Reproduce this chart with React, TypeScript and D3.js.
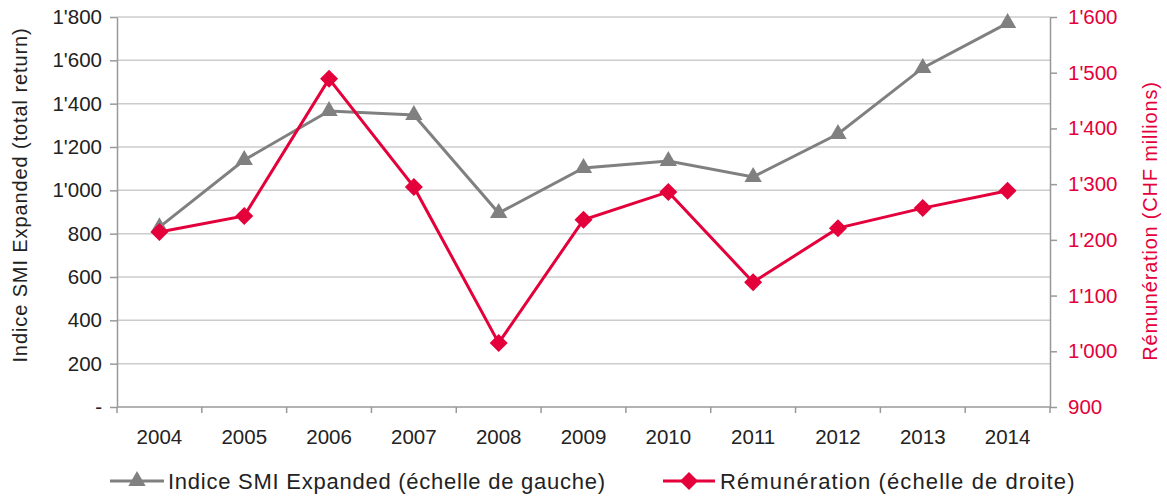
import React, { useEffect, useRef } from 'react'
import * as d3 from 'd3'

const years = ['2004', '2005', '2006', '2007', '2008', '2009', '2010', '2011', '2012', '2013', '2014']
const smiValues = [830, 1140, 1366, 1348, 895, 1103, 1135, 1062, 1260, 1565, 1772]
const payValues = [1214, 1243, 1489, 1295, 1015, 1236, 1286, 1124, 1221, 1257, 1288]
const leftTicks = [0, 200, 400, 600, 800, 1000, 1200, 1400, 1600, 1800]
const rightTicks = [900, 1000, 1100, 1200, 1300, 1400, 1500, 1600]

const GRAY = '#808080'
const RED = '#E4003B'
const TEXT = '#222'
const FONT = '"Liberation Sans", Arial, sans-serif'

const fmt = (v: number) => {
	if (v === 0) return '-'
	const s = String(v)
	return s.length > 3 ? s.slice(0, s.length - 3) + "'" + s.slice(-3) : s
}

const App = () => {
	const ref = useRef<SVGSVGElement>(null)

	useEffect(() => {
		const svg = d3.select(ref.current)
		svg.selectAll('*').remove()

		const left = 117,
			right = 1050,
			top = 17,
			bottom = 407

		const x = d3.scaleBand().domain(years).range([left, right])
		const yL = d3.scaleLinear().domain([0, 1800]).range([bottom, top])
		const yR = d3.scaleLinear().domain([900, 1600]).range([bottom, top])

		// gridlines
		svg.append('g')
			.selectAll('line')
			.data(leftTicks.slice(1))
			.enter()
			.append('line')
			.attr('x1', left)
			.attr('x2', right)
			.attr('y1', d => yL(d))
			.attr('y2', d => yL(d))
			.attr('stroke', '#cccccc')
			.attr('stroke-width', 1.5)

		// left axis
		const gL = svg.append('g').attr('transform', `translate(${left},0)`)
			.call(d3.axisLeft(yL).tickValues(leftTicks).tickFormat(d => fmt(+d)).tickSize(7).tickSizeOuter(0).tickPadding(8))
		gL.select('.domain').attr('stroke', '#999').attr('stroke-width', 1.5)
		gL.selectAll('.tick line').attr('stroke', '#999').attr('stroke-width', 1.5)
		gL.selectAll('.tick text').attr('fill', TEXT).style('font-size', '20.5px').style('font-family', FONT)

		// right axis
		const gR = svg.append('g').attr('transform', `translate(${right},0)`)
			.call(d3.axisRight(yR).tickValues(rightTicks).tickFormat(d => fmt(+d)).tickSize(7).tickSizeOuter(0).tickPadding(11))
		gR.select('.domain').attr('stroke', '#999').attr('stroke-width', 1.5)
		gR.selectAll('.tick line').attr('stroke', '#999').attr('stroke-width', 1.5)
		gR.selectAll('.tick text').attr('fill', RED).style('font-size', '20.5px').style('font-family', FONT)

		// x axis
		const gX = svg.append('g').attr('transform', `translate(0,${bottom})`)
		gX.append('line').attr('x1', left).attr('x2', right).attr('stroke', '#999').attr('stroke-width', 1.5)
		gX.selectAll('.tk')
			.data(years.concat(['end']))
			.enter()
			.append('line')
			.attr('x1', (d, i) => left + i * x.step())
			.attr('x2', (d, i) => left + i * x.step())
			.attr('y1', 0)
			.attr('y2', 6)
			.attr('stroke', '#999')
			.attr('stroke-width', 1.5)
		gX.selectAll('text')
			.data(years)
			.enter()
			.append('text')
			.attr('x', d => x(d)! + x.bandwidth() / 2)
			.attr('y', 37)
			.attr('text-anchor', 'middle')
			.attr('fill', TEXT)
			.style('font-size', '20.5px')
			.style('font-family', FONT)
			.text(d => d)

		// axis titles
		svg.append('text')
			.attr('transform', `translate(27,195) rotate(-90)`)
			.attr('text-anchor', 'middle')
			.attr('fill', TEXT)
			.style('font-size', '20px')
			.style('font-family', FONT)
			.style('letter-spacing', '0.9px')
			.text('Indice SMI Expanded (total return)')
		svg.append('text')
			.attr('transform', `translate(1157,221) rotate(-90)`)
			.attr('text-anchor', 'middle')
			.attr('fill', RED)
			.style('font-size', '20px')
			.style('font-family', FONT)
			.style('letter-spacing', '0.8px')
			.text('Rémunération (CHF millions)')

		const cx = (i: number) => x(years[i])! + x.bandwidth() / 2
		const tri = d3.symbol().type(d3.symbolTriangle).size(130)
		const dia = (s: number) => `M0,${-s}L${s},0L0,${s}L${-s},0Z`

		// SMI series
		svg.append('path')
			.datum(smiValues)
			.attr('fill', 'none')
			.attr('stroke', GRAY)
			.attr('stroke-width', 3)
			.attr('d', d3.line<number>().x((d, i) => cx(i)).y(d => yL(d)))
		svg.append('g')
			.selectAll('path')
			.data(smiValues)
			.enter()
			.append('path')
			.attr('d', tri)
			.attr('transform', (d, i) => `translate(${cx(i)},${yL(d)})`)
			.attr('fill', GRAY)

		// Remuneration series
		svg.append('path')
			.datum(payValues)
			.attr('fill', 'none')
			.attr('stroke', RED)
			.attr('stroke-width', 3)
			.attr('d', d3.line<number>().x((d, i) => cx(i)).y(d => yR(d)))
		svg.append('g')
			.selectAll('path')
			.data(payValues)
			.enter()
			.append('path')
			.attr('d', dia(9))
			.attr('transform', (d, i) => `translate(${cx(i)},${yR(d)})`)
			.attr('fill', RED)

		// legend
		const lg = svg.append('g').attr('transform', 'translate(0,481)')
		lg.append('line').attr('x1', 110).attr('x2', 164).attr('stroke', GRAY).attr('stroke-width', 3)
		lg.append('path').attr('d', tri).attr('transform', 'translate(137,0)').attr('fill', GRAY)
		lg.append('text').attr('x', 168).attr('y', 8).attr('fill', TEXT)
			.style('font-size', '22px').style('font-family', FONT).style('letter-spacing', '0.75px')
			.text('Indice SMI Expanded (échelle de gauche)')
		lg.append('line').attr('x1', 663).attr('x2', 715).attr('stroke', RED).attr('stroke-width', 3)
		lg.append('path').attr('d', dia(9)).attr('transform', 'translate(689,0)').attr('fill', RED)
		lg.append('text').attr('x', 720).attr('y', 8).attr('fill', TEXT)
			.style('font-size', '22px').style('font-family', FONT).style('letter-spacing', '1.1px')
			.text('Rémunération (échelle de droite)')
	}, [])

	return <svg ref={ref} width={1167} height={497} style={{ position: 'absolute', left: 0, top: 0 }} />
}

export default App
